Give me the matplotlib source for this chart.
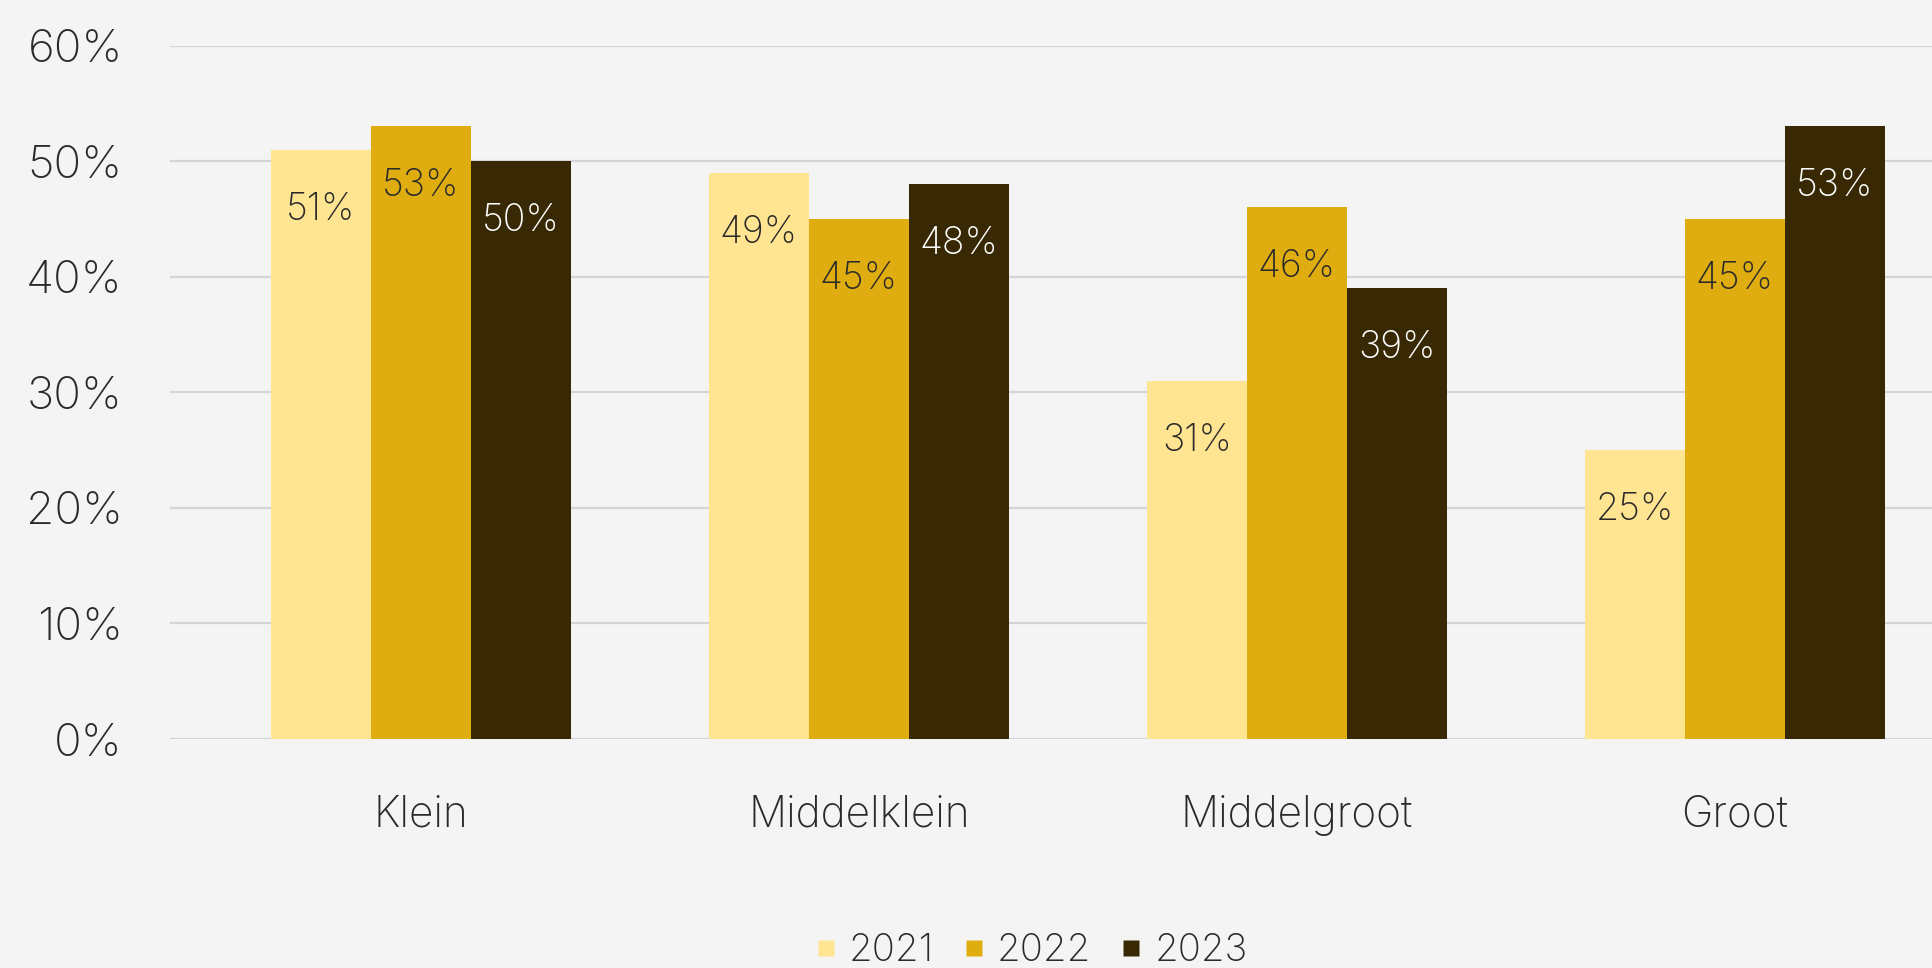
import matplotlib
matplotlib.use("Agg")
import matplotlib.pyplot as plt
from matplotlib.lines import Line2D
import numpy as np

categories = ["Klein", "Middelklein", "Middelgroot", "Groot"]
years = ["2021", "2022", "2023"]
values = {
    "2021": [51, 49, 31, 25],
    "2022": [53, 45, 46, 45],
    "2023": [50, 48, 39, 53],
}
yticks = [0, 10, 20, 30, 40, 50, 60]
colors = {"2021": "#FFE591", "2022": "#DFAD0F", "2023": "#382904"}
label_colors = {"2021": "#2a2a2a", "2022": "#2a2a2a", "2023": "#ffffff"}

plt.rcParams['font.family'] = ['Inter', 'DejaVu Sans']
plt.rcParams['font.weight'] = 'light'

W, H = 1932, 968
fig = plt.figure(figsize=(W/100, H/100), dpi=100, facecolor="#F4F4F4")
ax = fig.add_axes([170/W, 1-739/H, 1-170/W, (739-45.6)/H])
ax.set_facecolor("#F4F4F4")

x = np.arange(len(categories))
bw = 100/438
for i, y in enumerate(years):
    bars = ax.bar(x + (i-1)*bw, values[y], width=bw, color=colors[y], zorder=3, label=y)
    for xi, v in zip(x + (i-1)*bw, values[y]):
        ax.annotate(f"{v}%", (xi, v), xytext=(0, -60*0.72), textcoords="offset points",
                    ha="center", va="center", fontsize=27, color=label_colors[y],
                    fontweight='light', zorder=4)

ax.set_xlim((170-421)/438, (1932-421)/438)
ax.set_ylim(0, 60)
ax.set_yticks(yticks)
ax.set_yticklabels([f"{t}%" for t in yticks])
ax.set_xticks(x)
ax.set_xticklabels(categories)
ax.tick_params(axis='y', length=0, pad=34, labelsize=33, labelcolor="#2a2a2a")
ax.tick_params(axis='x', length=0, pad=40, labelsize=30.5, labelcolor="#2a2a2a")
ax.grid(axis='y', color="#D5D5D7", linewidth=1.6, zorder=0)
for s in ax.spines.values():
    s.set_visible(False)

handles = [Line2D([0], [0], marker='s', linestyle='none', markersize=12,
                  markerfacecolor=colors[y], markeredgecolor='none') for y in years]
fig.legend(handles, years, loc='center', bbox_to_anchor=(1032/W, 1-951/H), ncol=3,
           frameon=False, fontsize=27.5, handlelength=0.5, handletextpad=0.35,
           columnspacing=0.8, labelcolor="#2a2a2a")

fig.savefig("out.png", dpi=100, facecolor=fig.get_facecolor())
